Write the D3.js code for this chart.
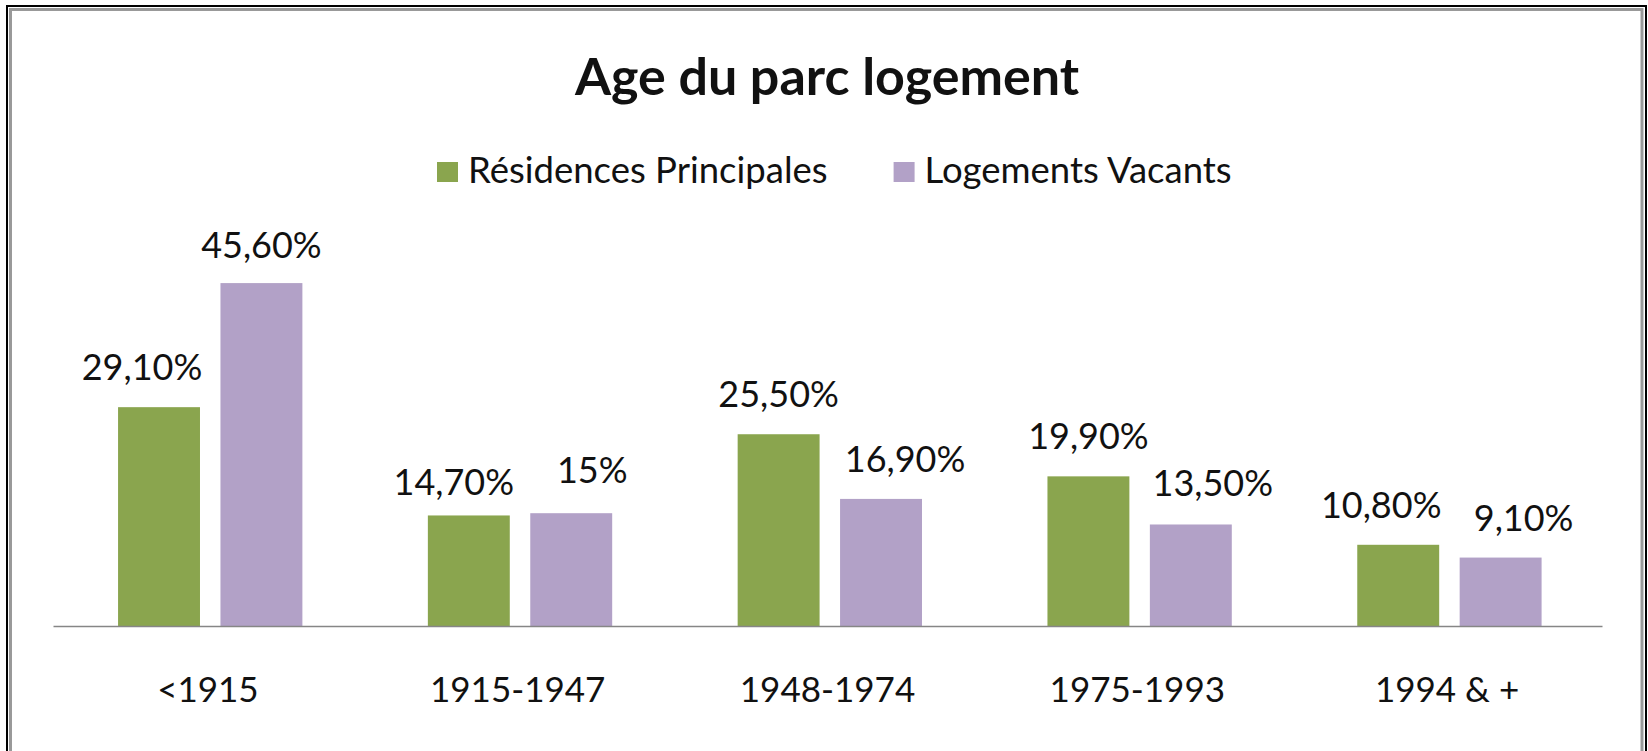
<!DOCTYPE html>
<html>
<head>
<meta charset="utf-8">
<script src="https://cdn.jsdelivr.net/npm/d3@7"></script>
<style>
  body { margin: 0; background: #fff; }
  text { font-family: Lato, "Liberation Sans", sans-serif; fill: #111; }
</style>
</head>
<body>
<svg id="chart" width="1648" height="751"></svg>
<script>
// data
let categories = ["<1915", "1915-1947", "1948-1974", "1975-1993", "1994 & +"];
let seriesNames = ["Résidences Principales", "Logements Vacants"];
let residences = [29.1, 14.7, 25.5, 19.9, 10.8];
let vacants = [45.6, 15, 16.9, 13.5, 9.1];
let residLabels = ["29,10%", "14,70%", "25,50%", "19,90%", "10,80%"];
let vacLabels = ["45,60%", "15%", "16,90%", "13,50%", "9,10%"];

// label nudges the original had (dx, dy in px)
let residNudge = [[-17, 0], [-15, 7], [0, 0], [0, 0], [-17, 0]];
let vacNudge = [[0, 2], [21, -3], [24, 0], [22, -1], [23, 0]];

let colors = ["#8aa54e", "#b2a1c7"];

const svg = d3.select("#chart");

// frame
svg.append("rect")
  .attr("x", 7).attr("y", 6)
  .attr("width", 1639).attr("height", 900)
  .attr("fill", "#fff")
  .attr("stroke", "#000")
  .attr("stroke-width", 2);
svg.append("rect")
  .attr("x", 10.5).attr("y", 9.5)
  .attr("width", 1631.5).attr("height", 900)
  .attr("fill", "none")
  .attr("stroke", "#999")
  .attr("stroke-width", 3);

// title
svg.append("text")
  .attr("x", 827)
  .attr("y", 95)
  .attr("text-anchor", "middle")
  .style("font-size", "52px")
  .style("font-weight", "bold")
  .text("Age du parc logement");

// scales
const x0 = d3.scaleBand()
  .domain(categories)
  .range([53, 1602]);

const x1 = d3.scaleBand()
  .domain(seriesNames)
  .range([x0.bandwidth() * 0.21, x0.bandwidth() * 0.805])
  .paddingInner(0.2);

const y = d3.scaleLinear()
  .domain([0, 50])
  .range([626, 250]);

// bars + labels
let series = [
  { name: seriesNames[0], values: residences, labels: residLabels, nudge: residNudge, color: colors[0] },
  { name: seriesNames[1], values: vacants, labels: vacLabels, nudge: vacNudge, color: colors[1] }
];

for (let s of series) {
  let rows = categories.map((c, i) => ({ cat: c, v: s.values[i], lab: s.labels[i], n: s.nudge[i] }));

  svg.append("g")
    .selectAll("rect")
    .data(rows)
    .join("rect")
    .attr("x", d => x0(d.cat) + x1(s.name))
    .attr("y", d => y(d.v))
    .attr("width", x1.bandwidth())
    .attr("height", d => y(0) - y(d.v))
    .attr("fill", s.color);

  svg.append("g")
    .selectAll("text")
    .data(rows)
    .join("text")
    .attr("x", d => x0(d.cat) + x1(s.name) + x1.bandwidth() / 2 + d.n[0])
    .attr("y", d => y(d.v) - 27 + d.n[1])
    .attr("text-anchor", "middle")
    .style("font-size", "36px")
    .text(d => d.lab);
}

// category axis
const xAxis = d3.axisBottom(x0)
  .tickSizeInner(0)
  .tickSizeOuter(0)
  .tickPadding(51);

const gx = svg.append("g")
  .attr("transform", "translate(0,626)")
  .call(xAxis);
gx.select(".domain").attr("stroke", "#868686").attr("stroke-width", 1.5);
gx.selectAll("text")
  .style("font-size", "35px")
  .style("font-family", "Lato, 'Liberation Sans', sans-serif")
  .attr("fill", "#111");

// legend
const legend = svg.append("g");
let lx = 437;
seriesNames.forEach((name, i) => {
  legend.append("rect")
    .attr("x", lx).attr("y", 162)
    .attr("width", 21).attr("height", 20)
    .attr("fill", colors[i]);
  let t = legend.append("text")
    .attr("x", lx + 31)
    .attr("y", 183)
    .style("font-size", "36.5px")
    .text(name);
  lx = lx + 31 + t.node().getComputedTextLength() + 66;
});
</script>
</body>
</html>
